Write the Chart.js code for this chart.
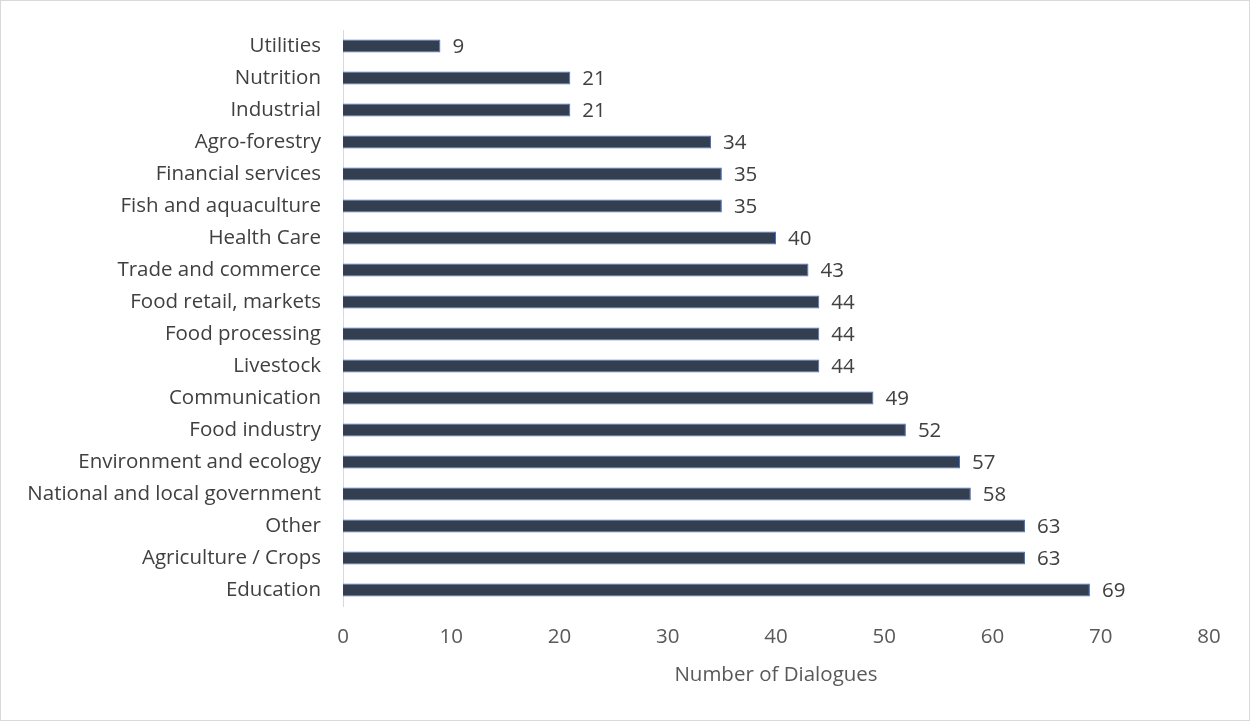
<!DOCTYPE html>
<html>
<head>
<meta charset="utf-8">
<script src="https://cdn.jsdelivr.net/npm/chart.js@4/dist/chart.umd.min.js"></script>
<style>
    body { margin: 0; background: #fff; }
    .frame { width: 1248px; height: 719px; border: 1px solid #d9d9d9; position: relative; }
    canvas { display: block; }
</style>
</head>
<body>
<div class="frame"><canvas id="chart" width="1248" height="719"></canvas></div>
<script>
// Data (top to bottom as shown)
const categories = [
    'Utilities', 'Nutrition', 'Industrial', 'Agro-forestry', 'Financial services',
    'Fish and aquaculture', 'Health Care', 'Trade and commerce', 'Food retail, markets',
    'Food processing', 'Livestock', 'Communication', 'Food industry',
    'Environment and ecology', 'National and local government', 'Other',
    'Agriculture / Crops', 'Education'
];
const dialogues = [9, 21, 21, 34, 35, 35, 40, 43, 44, 44, 44, 49, 52, 57, 58, 63, 63, 69];
const xTicks = [0, 10, 20, 30, 40, 50, 60, 70, 80];
const axisTitle = 'Number of Dialogues';

const fontFamily = "'Open Sans', 'Noto Sans', sans-serif";
const fontSize = 20.5;

// Value labels at the end of each bar
const valueLabels = {
    id: 'valueLabels',
    afterDatasetsDraw(chart) {
        const ctx = chart.ctx;
        const meta = chart.getDatasetMeta(0);
        ctx.save();
        ctx.fillStyle = '#404040';
        ctx.font = fontSize + 'px ' + fontFamily;
        ctx.textAlign = 'left';
        ctx.textBaseline = 'middle';
        meta.data.forEach((bar, i) => {
            ctx.fillText(dialogues[i], bar.x + 12, bar.y + 1);
        });
        ctx.restore();
    }
};

new Chart(document.getElementById('chart').getContext('2d'), {
    type: 'bar',
    data: {
        labels: categories,
        datasets: [{
            data: dialogues,
            backgroundColor: '#333f50',
            borderColor: '#4472c4',
            borderWidth: 1,
            categoryPercentage: 1,
            barPercentage: 0.4
        }]
    },
    options: {
        indexAxis: 'y',
        responsive: false,
        animation: false,
        layout: { padding: { top: 29, right: 40, bottom: 29, left: 0 } },
        plugins: {
            legend: { display: false },
            tooltip: { enabled: false }
        },
        scales: {
            x: {
                min: 0,
                max: 80,
                afterBuildTicks: scale => { scale.ticks = xTicks.map(v => ({ value: v })); },
                afterFit: scale => { scale.height = 85; },
                grid: { display: false, drawTicks: false },
                border: { display: false },
                ticks: { color: '#595959', font: { size: fontSize, family: fontFamily }, padding: 19 },
                title: {
                    display: true,
                    text: axisTitle,
                    color: '#595959',
                    font: { size: fontSize, family: fontFamily },
                    padding: { top: 8 }
                }
            },
            y: {
                afterFit: scale => {
                    scale.width = 342;
                    scale.paddingTop = 0;
                    scale.paddingBottom = 0;
                },
                grid: { display: false, drawTicks: false },
                border: { display: true, color: '#d9d9d9', width: 1 },
                ticks: { color: '#404040', font: { size: fontSize, family: fontFamily }, padding: 22 }
            }
        }
    },
    plugins: [valueLabels]
});
</script>
</body>
</html>
